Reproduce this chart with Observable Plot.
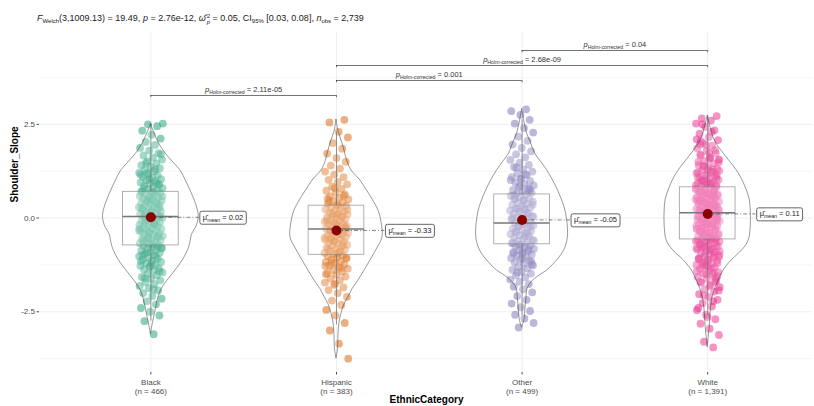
<!DOCTYPE html>
<html><head><meta charset="utf-8">
<script src="https://cdn.jsdelivr.net/npm/d3@7"></script>
<script src="https://cdn.jsdelivr.net/npm/@observablehq/plot@0.6"></script>
<style>
body{margin:0;background:#fff;font-family:"Liberation Sans",Arial,sans-serif;}
#wrap{position:relative;width:814px;height:406px;overflow:hidden;background:#fff;}
#title{position:absolute;left:37px;top:11px;font-size:9px;color:#222;white-space:nowrap;line-height:14px;}
#title sub{font-size:6px;vertical-align:-2px;line-height:0;}
#title .st{display:inline-block;vertical-align:middle;font-size:6px;line-height:6px;margin-left:1px;}
#chart{position:absolute;left:0;top:26px;}
</style></head><body>
<div id="wrap">
<div id="title"><i>F</i><sub>Welch</sub>(3,1009.13) = 19.49, <i>p</i> = 2.76e-12, <i>ω̂</i><span class="st">2<br><i>p</i></span> = 0.05, CI<sub>95%</sub> [0.03, 0.08], <i>n</i><sub>obs</sub> = 2,739</div>
<div id="chart"></div>
</div>
<script>
const categories = ["Black", "Hispanic", "Other", "White"];
const counts = ["466", "383", "499", "1,391"];
const colors = ["#1B9E77", "#D95F02", "#7570B3", "#E7298A"];
const means = [0.02, -0.33, -0.05, 0.11];
const medians = [0.04, -0.29, -0.13, 0.14];
const q1 = [-0.73, -0.98, -0.70, -0.57];
const q3 = [0.70, 0.33, 0.63, 0.82];
const whiskerLow = [-2.75, -2.85, -2.6, -2.6];
const whiskerHigh = [2.5, 2.3, 2.62, 2.72];
const yTicks = [-2.5, 0, 2.5];
const yMinor = [-3.75, -1.25, 1.25, 3.75];

const pairFrom = [1, 2, 2, 3];
const pairTo = [2, 3, 4, 4];
const pairP = ["2.11e-05", "0.001", "2.68e-09", "0.04"];

const valuesBlack = [-3.1,-2.75,-2.6,-2.5,-2.4,-2.3,-2.22,-2.15,-2.08,-2.0,-1.93,-1.87,-1.81,-1.76,-1.71,-1.66,-1.61,-1.57,-1.53,-1.49,-1.45,-1.41,-1.37,-1.34,-1.3,-1.27,-1.24,-1.2,-1.17,-1.14,-1.11,-1.08,-1.05,-1.02,-0.99,-0.96,-0.93,-0.9,-0.87,-0.85,-0.82,-0.79,-0.77,-0.74,-0.72,-0.69,-0.67,-0.64,-0.62,-0.59,-0.57,-0.55,-0.52,-0.5,-0.48,-0.45,-0.43,-0.41,-0.38,-0.36,-0.34,-0.31,-0.29,-0.27,-0.25,-0.22,-0.2,-0.18,-0.16,-0.13,-0.11,-0.09,-0.07,-0.04,-0.02,0.0,0.02,0.04,0.06,0.09,0.11,0.13,0.15,0.18,0.2,0.22,0.24,0.27,0.29,0.31,0.33,0.36,0.38,0.4,0.43,0.45,0.47,0.5,0.52,0.55,0.57,0.59,0.62,0.64,0.67,0.69,0.72,0.74,0.77,0.8,0.83,0.86,0.89,0.92,0.95,0.98,1.01,1.04,1.07,1.1,1.14,1.17,1.21,1.25,1.29,1.33,1.37,1.41,1.46,1.51,1.56,1.61,1.67,1.73,1.8,1.87,1.95,2.03,2.12,2.22,2.33,2.45,2.5,2.52,
  -1.9,-1.6,-1.42,-1.28,-1.15,-1.03,-0.92,-0.81,-0.7,-0.6,-0.49,-0.39,-0.28,-0.17,-0.06,0.05,0.16,0.26,0.37,0.48,0.58,0.69,0.8,0.91,1.03,1.16,1.3,1.47,1.7,
  -1.22,-0.98,-0.76,-0.54,-0.33,-0.12,0.08,0.28,0.49,0.7,0.93,1.2];
const valuesHispanic = [-3.75,-3.35,-3.0,-2.8,-2.6,-2.45,-2.32,-2.2,-2.1,-2.0,-1.92,-1.85,-1.78,-1.72,-1.66,-1.61,-1.56,-1.51,-1.47,-1.43,-1.39,-1.35,-1.31,-1.27,-1.24,-1.2,-1.17,-1.14,-1.11,-1.08,-1.05,-1.02,-0.99,-0.96,-0.93,-0.9,-0.87,-0.84,-0.82,-0.79,-0.76,-0.74,-0.71,-0.68,-0.66,-0.63,-0.61,-0.58,-0.56,-0.53,-0.51,-0.48,-0.46,-0.44,-0.41,-0.39,-0.37,-0.34,-0.32,-0.3,-0.28,-0.25,-0.23,-0.21,-0.19,-0.16,-0.14,-0.12,-0.1,-0.07,-0.05,-0.03,0.0,0.02,0.05,0.07,0.1,0.12,0.15,0.18,0.2,0.23,0.26,0.29,0.32,0.35,0.38,0.42,0.46,0.5,0.54,0.58,0.63,0.68,0.73,0.78,0.84,0.9,0.96,1.02,1.09,1.16,1.24,1.32,1.4,1.5,1.6,1.72,1.85,2.0,2.15,2.3,2.55,2.62,
  -1.75,-1.5,-1.33,-1.19,-1.06,-0.94,-0.83,-0.72,-0.62,-0.52,-0.42,-0.33,-0.24,-0.15,-0.06,0.04,0.13,0.22,0.33,0.45,0.6,0.8,
  -1.28,-0.88,-0.57,-0.27,0.09,0.52];
const valuesOther = [-2.92,-2.8,-2.68,-2.58,-2.48,-2.38,-2.28,-2.18,-2.08,-1.98,-1.9,-1.83,-1.76,-1.7,-1.64,-1.58,-1.53,-1.48,-1.43,-1.38,-1.34,-1.3,-1.26,-1.22,-1.18,-1.14,-1.1,-1.07,-1.03,-1.0,-0.97,-0.94,-0.91,-0.88,-0.85,-0.82,-0.79,-0.76,-0.73,-0.7,-0.67,-0.64,-0.61,-0.58,-0.55,-0.52,-0.49,-0.46,-0.43,-0.4,-0.37,-0.34,-0.31,-0.28,-0.25,-0.22,-0.19,-0.16,-0.13,-0.1,-0.07,-0.04,-0.01,0.02,0.05,0.08,0.11,0.14,0.17,0.2,0.23,0.26,0.29,0.32,0.35,0.38,0.41,0.44,0.47,0.5,0.53,0.56,0.59,0.62,0.65,0.68,0.71,0.75,0.79,0.83,0.87,0.91,0.95,0.99,1.04,1.09,1.14,1.19,1.24,1.3,1.36,1.42,1.48,1.55,1.62,1.7,1.78,1.87,1.96,2.06,2.17,2.28,2.4,2.52,2.62,2.75,2.85,2.9,
  -1.45,-1.24,-1.08,-0.95,-0.83,-0.71,-0.6,-0.48,-0.36,-0.24,-0.12,0.0,0.12,0.24,0.36,0.48,0.6,0.73,0.86,1.01,1.17,1.35,
  -1.16,-0.9,-0.66,-0.42,-0.2,0.04,0.27,0.52,0.78,1.06];
const valuesWhite = [-3.45,-3.3,-3.12,-2.95,-2.82,-2.7,-2.58,-2.46,-2.36,-2.27,-2.18,-2.1,-2.03,-1.96,-1.9,-1.84,-1.78,-1.72,-1.67,-1.62,-1.57,-1.52,-1.48,-1.44,-1.4,-1.36,-1.32,-1.28,-1.25,-1.21,-1.18,-1.14,-1.11,-1.08,-1.05,-1.02,-0.99,-0.96,-0.93,-0.9,-0.87,-0.84,-0.81,-0.78,-0.75,-0.72,-0.69,-0.66,-0.63,-0.61,-0.58,-0.56,-0.53,-0.51,-0.48,-0.46,-0.43,-0.41,-0.38,-0.36,-0.33,-0.31,-0.28,-0.26,-0.23,-0.21,-0.18,-0.16,-0.13,-0.11,-0.08,-0.06,-0.03,-0.01,0.02,0.04,0.07,0.09,0.12,0.14,0.17,0.19,0.22,0.24,0.27,0.29,0.32,0.34,0.37,0.39,0.42,0.44,0.47,0.49,0.52,0.54,0.57,0.59,0.62,0.64,0.67,0.69,0.72,0.75,0.78,0.81,0.84,0.87,0.9,0.93,0.96,0.99,1.02,1.05,1.08,1.12,1.16,1.2,1.24,1.28,1.32,1.36,1.41,1.46,1.51,1.56,1.61,1.67,1.73,1.79,1.86,1.93,2.0,2.08,2.16,2.25,2.34,2.43,2.52,2.6,2.66,2.72,
  -2.64,-2.4,-2.22,-2.06,-1.93,-1.81,-1.7,-1.6,-1.5,-1.42,-1.34,-1.27,-1.2,-1.13,-1.07,-1.01,-0.95,-0.89,-0.83,-0.77,-0.71,-0.65,-0.6,-0.55,-0.5,-0.45,-0.4,-0.35,-0.3,-0.25,-0.2,-0.15,-0.1,-0.05,0.0,0.05,0.1,0.15,0.2,0.25,0.3,0.35,0.4,0.45,0.5,0.55,0.6,0.65,0.7,0.76,0.82,0.88,0.94,1.0,1.07,1.14,1.22,1.3,1.39,1.48,1.58,1.69,1.81,1.95,2.1,2.3,2.5,
  -1.55,-1.3,-1.1,-0.92,-0.76,-0.62,-0.49,-0.37,-0.25,-0.14,-0.04,0.06,0.16,0.26,0.36,0.46,0.56,0.66,0.77,0.89,1.01,1.15,1.3,1.5,
  -1.46,-1.24,-1.04,-0.86,-0.7,-0.55,-0.42,-0.29,-0.17,-0.06,0.05,0.13,0.21,0.31,0.41,0.51,0.61,0.71,0.83,0.95,1.09,1.23,1.38,1.55,1.74,1.97,
  -1.7,-1.16,-0.8,-0.52,-0.27,-0.02,0.23,0.48,0.73,0.98,1.26,1.62,2.05];

const violinBlack = [[2.5,0],[2.3,0.016],[2.0,0.043],[1.75,0.075],[1.5,0.118],[1.25,0.162],[1.0,0.188],[0.65,0.221],[0.3,0.248],[0.05,0.258],[-0.2,0.248],[-0.45,0.221],[-0.6,0.215],[-0.8,0.205],[-1.13,0.172],[-1.35,0.14],[-1.59,0.102],[-1.8,0.07],[-2.0,0.048],[-2.3,0.032],[-2.55,0.022],[-2.8,0.011],[-3.1,0]];
const violinHispanic = [[2.62,0],[2.3,0.011],[2.07,0.027],[1.8,0.043],[1.5,0.059],[1.27,0.081],[1.0,0.129],[0.75,0.162],[0.55,0.188],[0.2,0.226],[-0.1,0.242],[-0.52,0.248],[-0.8,0.221],[-1.13,0.183],[-1.4,0.151],[-1.67,0.118],[-1.9,0.086],[-2.1,0.065],[-2.3,0.043],[-2.55,0.027],[-2.8,0.016],[-3.1,0.011],[-3.5,0.008],[-3.75,0]];
const violinOther = [[2.9,0],[2.6,0.011],[2.25,0.027],[2.0,0.048],[1.72,0.07],[1.5,0.102],[1.27,0.135],[1.0,0.167],[0.73,0.194],[0.4,0.221],[0.12,0.237],[-0.39,0.248],[-0.65,0.242],[-0.87,0.226],[-1.1,0.194],[-1.4,0.135],[-1.6,0.075],[-1.85,0.032],[-2.2,0.022],[-2.55,0.016],[-2.75,0.011],[-2.92,0]];
const violinWhite = [[2.72,0],[2.4,0.016],[2.07,0.038],[1.75,0.081],[1.35,0.145],[1.1,0.178],[0.81,0.205],[0.5,0.226],[0.2,0.232],[-0.2,0.232],[-0.6,0.221],[-0.85,0.188],[-1.13,0.129],[-1.35,0.092],[-1.59,0.065],[-1.85,0.043],[-2.1,0.027],[-2.5,0.016],[-2.9,0.011],[-3.2,0.005],[-3.45,0]];

const groupValues = [valuesBlack, valuesHispanic, valuesOther, valuesWhite];
const violins = [violinBlack, violinHispanic, violinOther, violinWhite];

const pointRows = groupValues.flatMap((vals, g) => vals.map((y, j) => ({g, y, j})));
const jitter = d => ((((d.j + 1) * 0.6180339887 + d.g * 0.37) % 1) - 0.5) * 0.13;
const violinRows = violins.flatMap((v, g) => v.map(([y, w]) => ({g, y, w})));
const boxRows = categories.map((c, g) => ({g, mean: means[g], median: medians[g], q1: q1[g], q3: q3[g], lo: whiskerLow[g], hi: whiskerHigh[g]}));
const pairRows = pairFrom.map((f, i) => ({from: f, to: pairTo[i], p: pairP[i], level: 3.27 + i * 0.4}));
const pairTicks = pairRows.flatMap(d => [{x: d.from, level: d.level}, {x: d.to, level: d.level}]);

const BW = 0.15;
const plot = Plot.plot({
  width: 814,
  height: 380,
  marginLeft: 39,
  marginRight: 1,
  marginTop: 6,
  marginBottom: 34,
  x: {domain: [0.4, 4.57], axis: null},
  y: {domain: [-4.12, 4.95], axis: null},
  style: {fontFamily: "'Liberation Sans', Arial, sans-serif", color: "#4d4d4d", background: "white", overflow: "visible"},
  marks: [
    Plot.ruleY(yMinor, {stroke: "#f0f0f0", strokeWidth: 0.6}),
    Plot.ruleY(yTicks, {stroke: "#e6e6e6", strokeWidth: 0.7}),
    Plot.ruleX([1, 2, 3, 4], {stroke: "#e6e6e6", strokeWidth: 0.7}),
    Plot.axisY({ticks: yTicks, tickFormat: d => d.toFixed(1), tickSize: 2.5, tickPadding: 2, fontSize: 8, label: null}),
    Plot.axisX({ticks: [1, 2, 3, 4], tickFormat: d => categories[d - 1] + "\n(n = " + counts[d - 1] + ")", tickSize: 2.5, tickPadding: 3, fontSize: 8, lineHeight: 1.2, label: null}),
    Plot.dot(pointRows, {x: d => d.g + 1 + jitter(d), y: "y", r: 3.9, fill: d => colors[d.g], fillOpacity: 0.5, stroke: "none"}),
    Plot.ruleX(boxRows, {x: d => d.g + 1, y1: "q3", y2: "hi", stroke: "#555", strokeWidth: 0.8}),
    Plot.ruleX(boxRows, {x: d => d.g + 1, y1: "lo", y2: "q1", stroke: "#555", strokeWidth: 0.8}),
    Plot.rect(boxRows, {x1: d => d.g + 1 - BW, x2: d => d.g + 1 + BW, y1: "q1", y2: "q3", fill: "white", fillOpacity: 0.25, stroke: "#666", strokeOpacity: 0.8, strokeWidth: 0.8}),
    Plot.ruleY(boxRows, {y: "median", x1: d => d.g + 1 - BW, x2: d => d.g + 1 + BW, stroke: "#555", strokeWidth: 1.5}),
    Plot.areaX(violinRows, {y: "y", x1: d => d.g + 1 - d.w, x2: d => d.g + 1 + d.w, z: "g", fill: "white", fillOpacity: 0.2, stroke: "#333", strokeWidth: 0.5, curve: "catmull-rom"}),
    Plot.ruleY(boxRows, {y: "mean", x1: d => d.g + 1, x2: d => d.g + 1 + 0.26, stroke: "#333", strokeWidth: 0.6, strokeDasharray: "4,2,1,2"}),
    Plot.dot(boxRows, {x: d => d.g + 1, y: "mean", r: 5, fill: "#8B0000", stroke: "none"}),
    Plot.text(boxRows, {x: d => d.g + 1 + 0.28, y: "mean", text: d => "μ̂|mean| = " + d.mean.toFixed(2), textAnchor: "start", fontSize: 7.5, fill: "#222"}),
    Plot.ruleY(pairRows, {y: "level", x1: "from", x2: "to", stroke: "#333", strokeWidth: 0.7}),
    Plot.ruleX(pairTicks, {x: "x", y1: "level", y2: d => d.level - 0.06, stroke: "#333", strokeWidth: 0.7}),
    Plot.text(pairRows, {x: d => (d.from + d.to) / 2, y: "level", text: d => "p|Holm-corrected| = " + d.p, lineAnchor: "bottom", dy: -3.5, fontSize: 7.5, fill: "#333"}),
    Plot.text(["Shoulder_Slope"], {frameAnchor: "left", dx: -25, rotate: -90, fontWeight: "bold", fontSize: 10, fill: "#000"}),
    Plot.text(["EthnicCategory"], {frameAnchor: "bottom", dy: 30, fontWeight: "bold", fontSize: 10, fill: "#000"})
  ]
});
document.getElementById("chart").appendChild(plot);

const NS = "http://www.w3.org/2000/svg";
plot.querySelectorAll("text").forEach(t => {
  const parts = t.textContent.split("|");
  if (parts.length < 3) return;
  const boxed = parts[0] !== "p";
  while (t.firstChild) t.removeChild(t.firstChild);
  const a = document.createElementNS(NS, "tspan");
  a.textContent = parts[0];
  if (!boxed) a.setAttribute("font-style", "italic");
  const b = document.createElementNS(NS, "tspan");
  b.textContent = parts[1];
  b.setAttribute("font-size", "5.2");
  b.setAttribute("dy", "2");
  const c = document.createElementNS(NS, "tspan");
  c.textContent = parts[2];
  c.setAttribute("dy", "-2");
  t.append(a, b, c);
  if (boxed) {
    const bb = t.getBBox();
    const r = document.createElementNS(NS, "rect");
    r.setAttribute("x", bb.x - 3);
    r.setAttribute("y", bb.y - 1.5);
    r.setAttribute("width", bb.width + 6);
    r.setAttribute("height", bb.height + 3);
    r.setAttribute("rx", 2);
    r.setAttribute("fill", "white");
    r.setAttribute("stroke", "#222");
    r.setAttribute("stroke-width", 0.7);
    if (t.getAttribute("transform")) r.setAttribute("transform", t.getAttribute("transform"));
    t.parentNode.insertBefore(r, t);
  }
});
</script>
</body></html>
